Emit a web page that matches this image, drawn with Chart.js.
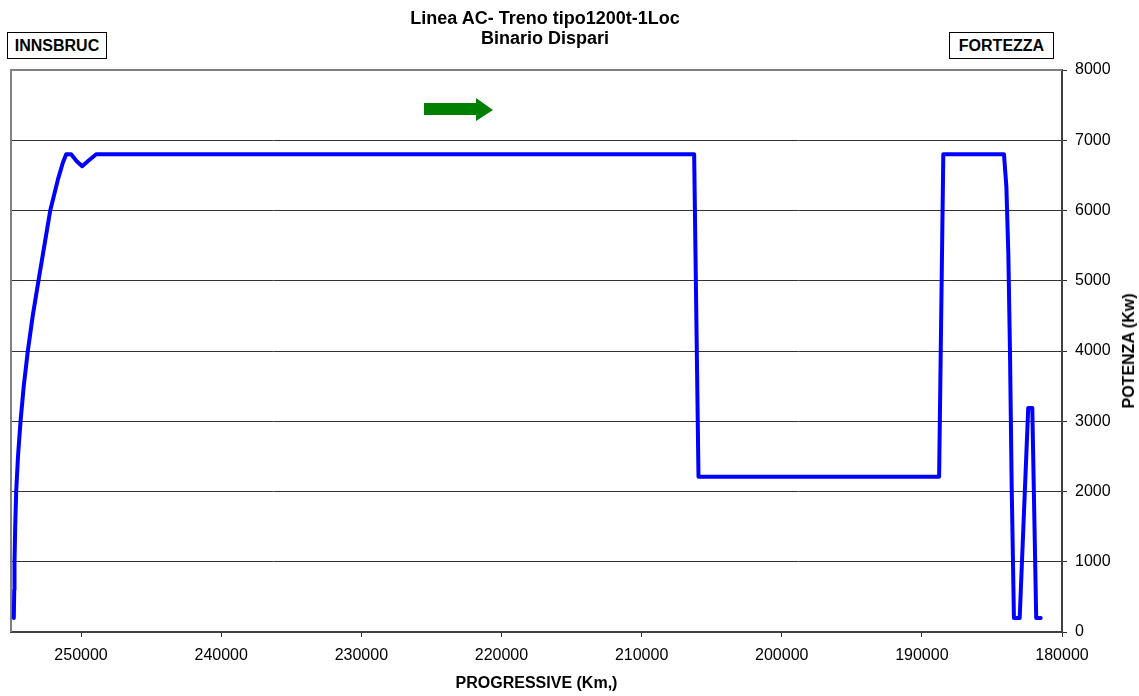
<!DOCTYPE html>
<html>
<head>
<meta charset="utf-8">
<script src="https://cdn.jsdelivr.net/npm/chart.js@4/dist/chart.umd.min.js"></script>
<style>
  body { margin: 0; background: #fff; }
  #wrap { position: relative; width: 1139px; height: 696px; font-family: Arial, "Liberation Sans", sans-serif; }
  .ttl { position: absolute; left: 0; top: 8px; width: 1090px; text-align: center; font-weight: bold; font-size: 18px; line-height: 20px; color: #000; }
  .box { position: absolute; top: 32px; height: 27px; box-sizing: border-box; border: 1px solid #000; font-weight: bold; font-size: 16px; line-height: 25px; text-align: center; background: #fff; }
  .ytitle { position: absolute; left: 1129px; top: 351px; transform: translate(-50%, -50%) rotate(-90deg); font-weight: bold; font-size: 16px; white-space: nowrap; }
</style>
</head>
<body>
<div id="wrap">
  <canvas id="potenzaChart" width="1139" height="696"></canvas>
  <div class="ttl">Linea AC- Treno tipo1200t-1Loc<br>Binario Dispari</div>
  <div class="box" style="left:7px;width:100px;">INNSBRUC</div>
  <div class="box" style="left:949px;width:105px;">FORTEZZA</div>
  <div class="ytitle">POTENZA (Kw)</div>
</div>
<script>
// progressive (m) and power (kW)
const progressive = [
  254800, 254770, 254750, 254700, 254630, 254500, 254320, 254090, 253800, 253450,
  253040, 252620, 252200, 251640, 251300, 251060, 250710, 250310, 249920, 249520,
  248920, 206250, 205940, 188770, 188470, 184140, 183970, 183830, 183710, 183590,
  183430, 183020, 182410, 182120, 181840, 181520
]
const potenza = [
  200, 600, 1000, 1500, 2000, 2500, 3000, 3500, 4000, 4500,
  5000, 5500, 6000, 6450, 6680, 6800, 6800, 6700, 6630, 6700,
  6800, 6800, 2210, 2210, 6800, 6800, 6340, 5390, 3970, 2070,
  200, 200, 3190, 3190, 200, 200
]
const xTicks = [250000, 240000, 230000, 220000, 210000, 200000, 190000, 180000]
const yTicks = [0, 1000, 2000, 3000, 4000, 5000, 6000, 7000, 8000]

const ctxChart = document.getElementById('potenzaChart')

const punti = progressive.map((km, i) => ({ x: km, y: potenza[i] }))

const extra = {
  id: 'extra',
  beforeDatasetsDraw(chart) {
    const { ctx, chartArea: a } = chart
    ctx.save()
    ctx.strokeStyle = '#808080'
    ctx.lineWidth = 2
    ctx.beginPath()
    ctx.moveTo(a.left, a.bottom)
    ctx.lineTo(a.left, a.top)
    ctx.lineTo(a.right, a.top)
    ctx.stroke()
    ctx.restore()
  },
  afterDraw(chart) {
    // direction arrow
    const ctx = chart.ctx
    ctx.save()
    ctx.fillStyle = '#008000'
    ctx.beginPath()
    ctx.moveTo(424, 103)
    ctx.lineTo(476, 103)
    ctx.lineTo(476, 98)
    ctx.lineTo(493, 110)
    ctx.lineTo(476, 121)
    ctx.lineTo(476, 115)
    ctx.lineTo(424, 115)
    ctx.closePath()
    ctx.fill()
    ctx.restore()
  }
}

new Chart(ctxChart, {
  type: 'scatter',
  data: {
    datasets: [{
      label: 'Potenza',
      data: punti,
      showLine: true,
      borderColor: '#0000ff',
      borderWidth: 4,
      borderJoinStyle: 'round',
      borderCapStyle: 'round',
      pointRadius: 0,
      tension: 0
    }]
  },
  options: {
    responsive: false,
    animation: false,
    devicePixelRatio: 1,
    layout: { padding: { top: 70, left: 11, right: 0, bottom: 0 } },
    plugins: {
      legend: { display: false },
      title: { display: false },
      tooltip: { enabled: false }
    },
    scales: {
      x: {
        type: 'linear',
        position: 'bottom',
        reverse: true,
        min: 180000,
        max: 255000,
        afterBuildTicks: s => { s.ticks = xTicks.map(v => ({ value: v })) },
        afterFit: s => { s.height = 64 },
        grid: { drawOnChartArea: false, drawTicks: true, tickLength: 5, color: '#333' },
        border: { color: '#404040', width: 2 },
        ticks: {
          padding: 9,
          color: '#000',
          maxRotation: 0,
          autoSkip: false,
          font: { family: 'Arial, "Liberation Sans"', size: 16 },
          callback: v => String(v)
        },
        title: {
          display: true,
          text: 'PROGRESSIVE (Km,)',
          color: '#000',
          font: { family: 'Arial, "Liberation Sans"', size: 16, weight: 'bold', lineHeight: 1.2 },
          padding: { top: 0, bottom: 3 }
        }
      },
      y: {
        position: 'right',
        min: 0,
        max: 8000,
        afterBuildTicks: s => { s.ticks = yTicks.map(v => ({ value: v })) },
        afterFit: s => { s.width = 77 },
        grid: { color: '#333', lineWidth: 1, tickLength: 5 },
        border: { color: '#404040', width: 2 },
        ticks: {
          padding: 8,
          color: '#000',
          font: { family: 'Arial, "Liberation Sans"', size: 16 },
          callback: v => String(v)
        }
      }
    }
  },
  plugins: [extra]
})
</script>
</body>
</html>
